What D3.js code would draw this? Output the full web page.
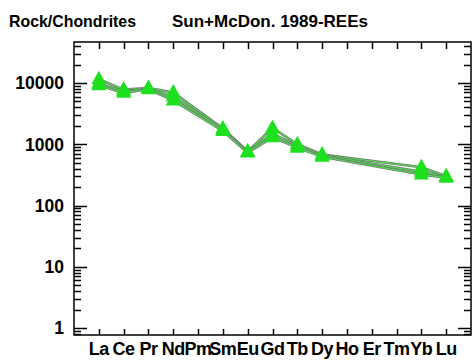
<!DOCTYPE html>
<html>
<head>
<meta charset="utf-8">
<script src="https://cdn.jsdelivr.net/npm/d3@7"></script>
<style>
  body { margin: 0; background: #fff; }
  text { font-family: "Liberation Sans", Arial, sans-serif; font-weight: bold; fill: #000; }
</style>
</head>
<body>
<div id="chart"></div>
<script>
// REE names along the x axis (Pm, Ho, Er, Tm have no data)
const elements = ["La", "Ce", "Pr", "Nd", "Pm", "Sm", "Eu", "Gd", "Tb", "Dy", "Ho", "Er", "Tm", "Yb", "Lu"];

// chondrite-normalised values, null = not analysed
const sample1 = [11500, 7800, 8300, 7000, null, 1800, 760, 1850, 1000, 680, null, null, null, 420, 300];
const sample2 = [9800, 7300, 8100, 6000, null, 1720, 745, 1500, 930, 655, null, null, null, 355, 292];
const sample3 = [9200, 6900, 7900, 5200, null, 1650, 730, 1300, 880, 625, null, null, null, 320, 285];

const yTickLabels = [1, 10, 100, 1000, 10000];

const titleLeft = "Rock/Chondrites";
const titleRight = "Sun+McDon. 1989-REEs";

const width = 472;
const height = 360;
const frame = { left: 74, right: 471, top: 42, bottom: 335 };

const svg = d3.select("#chart")
    .append("svg")
    .attr("width", width)
    .attr("height", height);

const x = d3.scaleLinear()
    .domain([-1, elements.length])
    .range([frame.left, frame.right]);

const y = d3.scaleLog()
    .domain([0.769, 46700])
    .range([frame.bottom, frame.top]);

// titles
svg.append("text")
    .attr("x", 9).attr("y", 27)
    .style("font-size", "16.5px")
    .attr("textLength", 127).attr("lengthAdjust", "spacingAndGlyphs")
    .text(titleLeft);
svg.append("text")
    .attr("x", 172).attr("y", 27)
    .style("font-size", "16.5px")
    .attr("textLength", 196).attr("lengthAdjust", "spacingAndGlyphs")
    .text(titleRight);

// frame
svg.append("rect")
    .attr("x", frame.left).attr("y", frame.top)
    .attr("width", frame.right - frame.left)
    .attr("height", frame.bottom - frame.top)
    .attr("fill", "none")
    .attr("stroke", "#000")
    .attr("stroke-width", 1.5);

// log ticks on left and right, pointing inwards
const logTicks = [];
for (let e = -1; e <= 4; e++) {
    for (let k = 1; k <= 9; k++) {
        const v = k * Math.pow(10, e);
        if (v >= y.domain()[0] && v <= y.domain()[1]) logTicks.push({ v: v, major: k === 1 });
    }
}

const yTicks = svg.append("g").attr("stroke", "#000").attr("stroke-width", 1.5);
logTicks.forEach(t => {
    const len = t.major ? 13 : 7;
    const yy = Math.round(y(t.v)) + 0.5;
    yTicks.append("line")
        .attr("x1", frame.left).attr("x2", frame.left + len)
        .attr("y1", yy).attr("y2", yy);
    yTicks.append("line")
        .attr("x1", frame.right).attr("x2", frame.right - len)
        .attr("y1", yy).attr("y2", yy);
});

svg.selectAll(".ylab")
    .data(yTickLabels)
    .join("text")
    .attr("class", "ylab")
    .attr("x", 64)
    .attr("y", d => y(d))
    .attr("dy", "0.36em")
    .attr("text-anchor", "end")
    .style("font-size", "17.5px")
    .text(d => d);

// x ticks top and bottom, pointing inwards
const xTicks = svg.append("g").attr("stroke", "#000").attr("stroke-width", 1.5);
elements.forEach((el, i) => {
    const xx = Math.round(x(i)) + 0.5;
    xTicks.append("line")
        .attr("x1", xx).attr("x2", xx)
        .attr("y1", frame.bottom).attr("y2", frame.bottom - 6);
    xTicks.append("line")
        .attr("x1", xx).attr("x2", xx)
        .attr("y1", frame.top).attr("y2", frame.top + 7);
});

svg.selectAll(".xlab")
    .data(elements)
    .join("text")
    .attr("class", "xlab")
    .attr("x", (d, i) => x(i))
    .attr("y", 355)
    .attr("text-anchor", "middle")
    .style("font-size", "18px")
    .style("letter-spacing", "-0.5px")
    .text(d => d);

// series
const series = [sample1, sample2, sample3];

const line = d3.line()
    .x(d => x(d.i))
    .y(d => y(d.v));

series.forEach(s => {
    const pts = s.map((v, i) => ({ i: i, v: v })).filter(d => d.v != null);
    svg.append("path")
        .datum(pts)
        .attr("d", line)
        .attr("fill", "none")
        .attr("stroke", "#6b786b")
        .attr("stroke-width", 2.6);
    svg.append("path")
        .datum(pts)
        .attr("d", line)
        .attr("fill", "none")
        .attr("stroke", "#55d855")
        .attr("stroke-width", 1.2);
});

const tri = "M0,-8.5L7.5,5L-7.5,5Z";
series.forEach(s => {
    const pts = s.map((v, i) => ({ i: i, v: v })).filter(d => d.v != null);
    svg.append("g")
        .selectAll("path")
        .data(pts)
        .join("path")
        .attr("d", tri)
        .attr("transform", d => `translate(${x(d.i)},${y(d.v)})`)
        .attr("fill", "#1ee01e");
});
</script>
</body>
</html>
